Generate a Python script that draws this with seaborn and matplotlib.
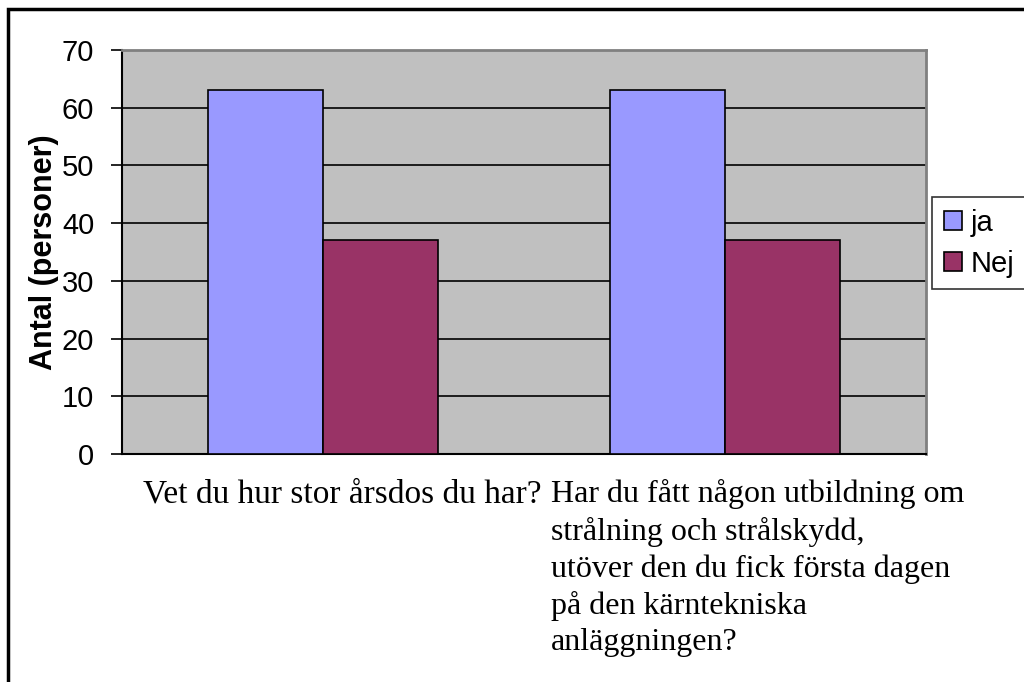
import matplotlib
matplotlib.use("Agg")
import matplotlib.pyplot as plt
import matplotlib.patches as mpatches
import matplotlib.transforms as mtransforms
import seaborn as sns
import pandas as pd

categories = ["Vet du hur stor årsdos du har?",
              "Har du fått någon utbildning om\nstrålning och strålskydd,\nutöver den du fick första dagen\npå den kärntekniska\nanläggningen?"]
series_names = ["ja", "Nej"]
ja_values = [63, 63]
nej_values = [37, 37]
colors = ["#9999FF", "#993366"]
yticks = [0, 10, 20, 30, 40, 50, 60, 70]

df = pd.DataFrame({
    "cat": categories * 2,
    "serie": [series_names[0]] * 2 + [series_names[1]] * 2,
    "val": ja_values + nej_values,
})

sns.set_theme(style="white")
plt.rcParams['font.family'] = ['Liberation Sans', 'DejaVu Sans']
plt.rcParams['text.color'] = 'black'
plt.rcParams['axes.labelcolor'] = 'black'
plt.rcParams['xtick.color'] = 'black'
plt.rcParams['ytick.color'] = 'black'

fig = plt.figure(figsize=(10.24, 6.82), dpi=100)
ax = fig.add_axes([122/1024, 1 - 454/682, (926-122)/1024, (454-50)/682])

sns.barplot(data=df, x="cat", y="val", hue="serie", palette=colors,
            width=0.57, saturation=1, edgecolor="black", linewidth=1.2,
            ax=ax, zorder=3)

ax.set_facecolor("#C0C0C0")
ax.set_ylim(0, 70)
ax.set_xlim(-0.5, 1.5)
ax.set_yticks(yticks)
ax.set_yticklabels([str(t) for t in yticks], fontsize=21, color="black")
ax.yaxis.grid(True, color="black", linewidth=1.2, zorder=0)
ax.set_axisbelow(True)
for s in ["top", "right"]:
    ax.spines[s].set_color("#808080")
    ax.spines[s].set_linewidth(2)
for s in ["left", "bottom"]:
    ax.spines[s].set_color("black")
    ax.spines[s].set_linewidth(1.5)
ax.tick_params(axis="y", which="both", left=True, length=8, width=1.2, color="black", pad=12)
ax.tick_params(axis="x", which="both", bottom=False, length=0, pad=18)

ax.set_xlabel("")
ax.set_ylabel("Antal (personer)", fontsize=22, fontweight="bold", labelpad=2, color="black")

ax.set_xticks([0, 1])
ax.set_xticklabels(categories, fontsize=24, fontfamily=["Liberation Serif", "DejaVu Serif"],
                   va="top", ha="center", multialignment="left", linespacing=1.33,
                   color="black")
offsets = [19/100, 33/100]
sizes = [24, 23]
for lab, off, fs in zip(ax.get_xticklabels(), offsets, sizes):
    lab.set_fontsize(fs)
    lab.set_transform(lab.get_transform() + mtransforms.ScaledTranslation(off, 0, fig.dpi_scale_trans))

handles = [mpatches.Patch(facecolor=c, edgecolor="black", linewidth=1.2, label=n)
           for c, n in zip(colors, series_names)]
ax.legend(handles=handles, loc="upper left", bbox_to_anchor=(932/1024, 1 - 197/682),
          bbox_transform=fig.transFigure, frameon=True, fancybox=False,
          edgecolor="black", fontsize=21, handlelength=0.62, handleheight=0.62,
          handletextpad=0.3, borderpad=0.4, labelspacing=0.45, borderaxespad=0,
          labelcolor="black")
leg = ax.get_legend()
leg.get_frame().set_linewidth(1.2)

frame = mpatches.Rectangle((8/1024, -0.05), 1.0, 1 - 9/682 + 0.05, transform=fig.transFigure,
                           fill=False, edgecolor="black", linewidth=2.5, clip_on=False)
fig.patches.append(frame)

fig.savefig("out.png", dpi=100, facecolor="white")
